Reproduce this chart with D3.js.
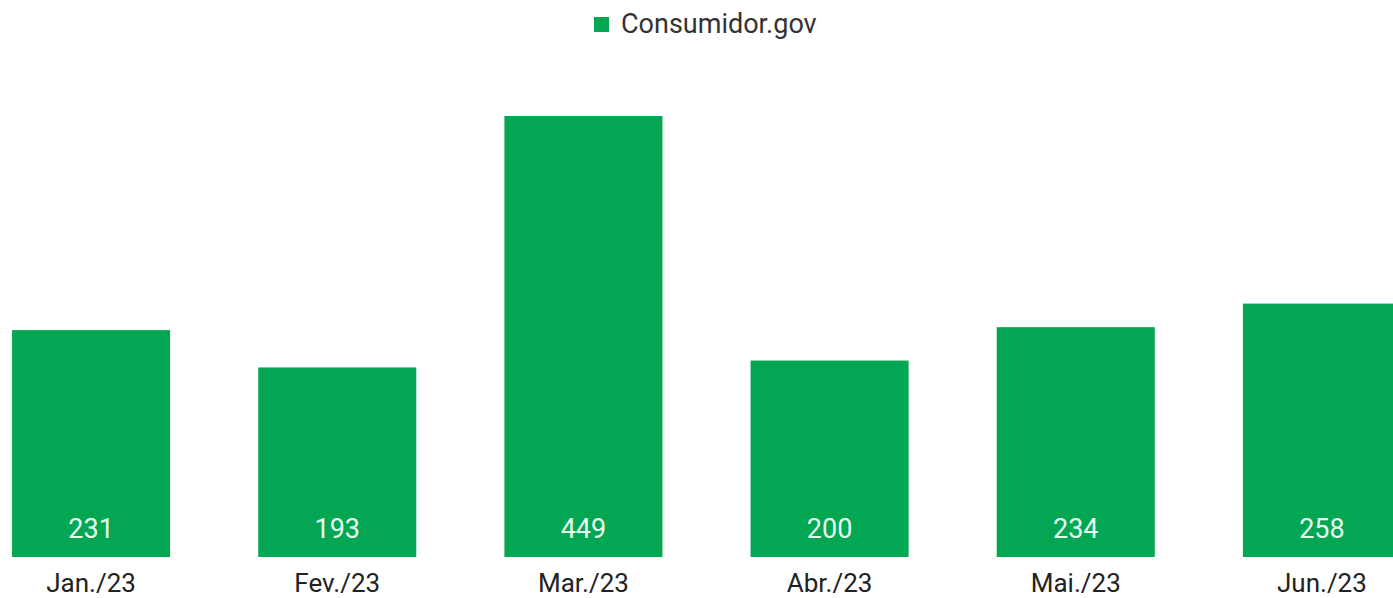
<!DOCTYPE html>
<html>
<head>
<meta charset="utf-8">
<script src="https://cdn.jsdelivr.net/npm/d3@7"></script>
<style>
html,body{margin:0;padding:0;background:#fff;overflow:hidden;}
svg{display:block;font-family:Roboto, "Noto Sans", sans-serif;}
</style>
</head>
<body>
<svg id="chart" width="1393" height="598"></svg>
<script>
const categories = ["Jan./23","Fev./23","Mar./23","Abr./23","Mai./23","Jun./23"];
const values = [231,193,449,200,234,258];
const seriesName = "Consumidor.gov";
const color = "#02a653";

const svg = d3.select("#chart");
const baseline = 557;
const x = d3.scaleBand().domain(categories).range([-32, 1445]).paddingInner(0.358).paddingOuter(0.179);
const y = d3.scaleLinear().domain([0, 449]).range([baseline, 116]);

svg.append("g").selectAll("rect").data(values).join("rect")
  .attr("x", (d,i)=>x(categories[i]))
  .attr("y", d=>y(d))
  .attr("width", x.bandwidth())
  .attr("height", d=>baseline - y(d))
  .attr("fill", color);

svg.append("g").selectAll("text").data(values).join("text")
  .attr("x", (d,i)=>x(categories[i]) + x.bandwidth()/2)
  .attr("y", 538)
  .attr("text-anchor","middle")
  .attr("font-size", 27)
  .attr("fill", "#e8fff0")
  .text(d=>d);

const axis = d3.axisBottom(x).tickSize(0).tickPadding(0);
const ag = svg.append("g").attr("transform", `translate(0,${baseline})`).call(axis);
ag.select(".domain").remove();
ag.selectAll("text").attr("font-size", 26).attr("fill", "#222").attr("dy", null).attr("y", 35).style("font-family","Roboto, sans-serif");

const lg = svg.append("g");
lg.append("rect").attr("x", 594).attr("y", 17).attr("width", 15).attr("height", 15).attr("fill", color);
lg.append("text").attr("x", 621).attr("y", 33).attr("font-size", 27).attr("fill", "#333").text(seriesName);
</script>
</body>
</html>
